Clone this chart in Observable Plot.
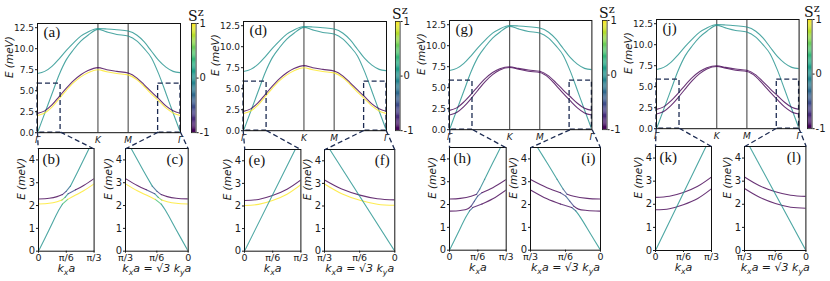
<!DOCTYPE html>
<html><head><meta charset="utf-8">
<script src="https://cdn.jsdelivr.net/npm/d3@7"></script>
<script src="https://cdn.jsdelivr.net/npm/@observablehq/plot@0.6"></script>
<style>
body{margin:0;background:#fff;}
#fig{position:relative;width:830px;height:281px;overflow:hidden;background:#fff;font-family:"DejaVu Sans",sans-serif;}
#fig svg{position:absolute;}
</style></head><body><div id="fig"></div>
<script>
// ---------------- data ----------------
// distance along the path Γ–K–M–Γ (units of 1/a)
const pathTickPos = [0, 4.189, 6.283, 9.911];
const pathTickLab = ["Γ", "K", "M", "Γ"];
const eTicksMain = [0, 2.5, 5, 7.5, 10, 12.5];
const dMain = [0, 0.5, 1.0, 1.5, 2.0, 2.5, 3.0, 3.5, 4.189, 4.8, 5.5, 6.283, 6.9, 7.4, 7.9, 8.4, 8.9, 9.4, 9.911];

// panels (a),(d)
const cyanUpperAD = [7.05, 7.3, 7.9, 8.8, 9.8, 10.7, 11.5, 12.0, 12.4, 12.35, 12.25, 12.1, 11.6, 10.8, 9.7, 8.6, 7.8, 7.3, 7.15];
const cyanLowerAD = [0, 2.3, 4.6, 6.9, 8.7, 9.9, 10.9, 11.6, 12.3, 12.0, 11.7, 11.5, 10.9, 10.0, 8.9, 7.0, 4.7, 2.35, 0];
const purpleAD    = [2.3, 2.6, 3.3, 4.3, 5.3, 6.2, 6.9, 7.4, 7.75, 7.5, 7.3, 7.1, 6.5, 5.7, 4.85, 4.05, 3.2, 2.6, 2.3];
const yellowAD    = [2.05, 2.35, 3.05, 4.05, 5.05, 5.95, 6.65, 7.15, 7.5, 7.25, 7.05, 6.88, 6.3, 5.5, 4.6, 3.8, 2.95, 2.35, 2.05];
// panels (g),(j)
const cyanUpperGJ = [7.05, 7.3, 7.9, 8.8, 9.8, 10.7, 11.5, 12.0, 12.4, 12.35, 12.25, 12.1, 11.6, 10.8, 9.7, 8.6, 7.8, 7.3, 7.15];
const cyanLowerGJ = [0, 2.3, 4.6, 6.9, 8.7, 9.9, 10.9, 11.6, 12.3, 12.0, 11.7, 11.5, 10.9, 10.0, 8.9, 7.0, 4.7, 2.35, 0];
const purpleUpperGJ = [2.3, 2.6, 3.3, 4.2, 5.2, 6.1, 6.8, 7.25, 7.5, 7.3, 7.1, 6.95, 6.4, 5.6, 4.75, 3.95, 3.15, 2.55, 2.3];
const purpleLowerGJ = [1.75, 2.05, 2.75, 3.7, 4.75, 5.75, 6.55, 7.1, 7.4, 7.2, 6.95, 6.8, 6.2, 5.3, 4.35, 3.45, 2.6, 2.0, 1.75];

// dashed zoom boxes (path distance, energy)
const boxLeft = [0, 1.6];
const boxRight = [8.36, 9.911];
const boxTop = 5.85;

// inset axes
const kTicks = [0, Math.PI / 6, Math.PI / 3];
const kTickLab = ["0", "π/6", "π/3"];
const eTicksInset = [0, 1, 2, 3, 4];

// (b),(c): anticrossing, S^z = +1 / -1 bands
const kB1 = [0, 0.2, 0.38, 0.45, 0.55, 0.7, 0.85, 1.047];
const eB1 = [0, 0.94, 1.79, 2.06, 2.27, 2.46, 2.65, 2.95];
const sB1 = [0, 0, 0, 0.4, 1, 1, 1, 1];
const kB2 = [0, 0.2, 0.35, 0.44, 0.5, 0.56, 0.7, 0.85, 1.047];
const eB2 = [2.07, 2.1, 2.17, 2.24, 2.36, 2.52, 2.69, 2.88, 3.18];
const sB2 = [1, 1, 1, 0.6, 0, -0.6, -1, -1, -1];
const kB3 = [0, 0.2, 0.35, 0.45, 0.52, 0.6, 0.75, 0.953];
const eB3 = [2.29, 2.32, 2.39, 2.48, 2.62, 2.85, 3.54, 4.5];
const sB3 = [-1, -1, -1, -0.7, -0.3, 0, 0, 0];

// (e),(f): crossings
const kE = [0, 0.26, 0.52, 0.79, 1.047];
const purpleE = [2.24, 2.29, 2.46, 2.74, 3.15];
const yellowE = [2.02, 2.07, 2.24, 2.52, 2.94];
const kCyanE = [0, 0.942], eCyanE = [0, 4.5];
const purpleF = [2.27, 2.32, 2.48, 2.75, 3.15];
const yellowF = [2.03, 2.08, 2.25, 2.54, 2.97];
const kCyanF = [0, 0.968], eCyanF = [0, 4.5];

// (h),(i): anticrossing, two S^z = -1 bands
const kH1 = [0, 0.15, 0.3, 0.37, 0.43, 0.6, 0.8, 1.047];
const eH1 = [0, 0.72, 1.44, 1.72, 1.87, 2.02, 2.25, 2.64];
const sH1 = [0, 0, 0, -0.4, -0.9, -1, -1, -1];
const kH2 = [0, 0.2, 0.33, 0.4, 0.46, 0.52, 0.6, 0.8, 1.047];
const eH2 = [1.71, 1.74, 1.8, 1.93, 2.15, 2.37, 2.52, 2.74, 3.1];
const sH2 = [-1, -1, -1, -0.6, -0.4, -0.6, -1, -1, -1];
const kH3 = [0, 0.2, 0.4, 0.5, 0.56, 0.65, 0.8, 0.942];
const eH3 = [2.24, 2.27, 2.36, 2.45, 2.68, 3.11, 3.83, 4.5];
const sH3 = [-1, -1, -1, -0.5, -0.1, 0, 0, 0];

// (k),(l): crossings
const kK = [0, 0.26, 0.52, 0.79, 1.047];
const upperK = [2.3, 2.35, 2.51, 2.78, 3.18];
const lowerK = [1.76, 1.81, 1.98, 2.25, 2.67];
const kCyanK = [0, 0.945], eCyanK = [0, 4.5];
const upperL = [2.34, 2.39, 2.54, 2.8, 3.18];
const lowerL = [1.83, 1.87, 2.03, 2.3, 2.68];
const kCyanL = [0, 0.96], eCyanL = [0, 4.5];

const cbTicks = [-1, 0, 1];

// ---------------- helpers ----------------
const fig = document.getElementById("fig");
const FW = 830, FH = 281;
const BOXC = "#1c2b52";
const DASH = "5,3";
const colorOpt = {type: "linear", scheme: "viridis", domain: [-1, 1]};

function bandRows(name, ks, es, ss) {
  const out = []; let p = 0;
  for (let i = 0; i < ks.length; i++) {
    const s = Array.isArray(ss) ? ss[i] : ss;
    const sp = Array.isArray(ss) ? ss[i - 1] : ss;
    if (i > 0 && s !== sp) { out.push({k: ks[i], e: es[i], s: sp, piece: name + p}); p++; }
    out.push({k: ks[i], e: es[i], s, piece: name + p});
  }
  return out;
}

function place(svg, left, top) {
  svg.style.left = left + "px";
  svg.style.top = top + "px";
  fig.appendChild(svg);
  return {svg, left, top};
}

const baseStyle = {background: "transparent", overflow: "visible", fontFamily: "DejaVu Sans", color: "#1a1a1a"};

function mainPanel(cfg) {
  const mL = 45, mR = 10, mT = 30, mB = 30;
  const T = cfg.B - 109.2;
  const fw = cfg.R - cfg.L, fh = cfg.B - T;
  const rows = cfg.bands.flatMap(b => bandRows(b.name, dMain, b.e, b.s));
  const boxes = [{x1: boxLeft[0], x2: boxLeft[1]}, {x1: boxRight[0], x2: boxRight[1]}];
  const p = Plot.plot({
    width: fw + mL + mR, height: fh + mT + mB,
    marginLeft: mL, marginRight: mR, marginTop: mT, marginBottom: mB,
    style: baseStyle,
    x: {domain: [0, pathTickPos[3]]},
    y: {domain: [0, 13]},
    color: colorOpt,
    marks: [
      Plot.ruleX([pathTickPos[1], pathTickPos[2]], {stroke: "#3a3a3a", strokeWidth: 1}),
      Plot.line(rows, {x: "k", y: "e", z: "piece", stroke: "s", curve: "monotone-x", strokeWidth: 1.1, strokeOpacity: 0.8, clip: true}),
      Plot.rect(boxes, {x1: "x1", x2: "x2", y1: 0, y2: boxTop, fill: "none", stroke: BOXC, strokeWidth: 1.3, strokeDasharray: DASH}),
      Plot.frame({stroke: "#111"}),
      Plot.axisY({ticks: eTicksMain, tickFormat: d3.format(".1f"), tickSize: 2, tickPadding: 1.5, fontSize: 9, label: null}),
      Plot.axisX({ticks: pathTickPos, tickFormat: d => pathTickLab[pathTickPos.indexOf(d)], tickSize: 0, tickPadding: 4, fontSize: 9, fontStyle: "italic", label: null}),
      Plot.text([cfg.tag], {text: d => d, frameAnchor: "top-left", textAnchor: "start", lineAnchor: "top", dx: 6, dy: 3, fontFamily: "Liberation Serif", fontSize: 15, fill: "#111"}),
      Plot.text(["E (meV)"], {text: d => d, frameAnchor: "left", rotate: -90, dx: -28, fontStyle: "italic", fontSize: 10.5})
    ]
  });
  return {plot: p, ...place(p, cfg.L - mL, T - mT)};
}

function colorbar(cfg) {
  const mL = 5, mR = 25, mT = 30, mB = 5;
  const T = cfg.B - 109.2;
  const fh = cfg.B - T, fw = 4.6;
  const steps = d3.range(-1, 1, 0.02);
  const p = Plot.plot({
    width: fw + mL + mR, height: fh + mT + mB,
    marginLeft: mL, marginRight: mR, marginTop: mT, marginBottom: mB,
    style: baseStyle,
    x: {domain: [0, 1], axis: null},
    y: {domain: [-1, 1]},
    color: colorOpt,
    marks: [
      Plot.rect(steps, {x1: 0, x2: 1, y1: d => d, y2: d => d + 0.021, fill: d => d + 0.01}),
      Plot.frame({stroke: "#222", strokeWidth: 0.8}),
      Plot.axisY({anchor: "right", ticks: cbTicks, tickFormat: d => (d < 0 ? "-" : "") + Math.abs(d), tickSize: 2, tickPadding: 1.5, fontSize: 10, label: null}),
      Plot.text(["S^z"], {text: d => d, frameAnchor: "top", textAnchor: "middle", lineAnchor: "bottom", dx: 2, dy: -2, fontFamily: "DejaVu Serif", fontSize: 14, fill: "#111"})
    ]
  });
  return place(p, cfg.CL - mL, T - mT);
}

function insetPanel(cfg) {
  const mL = 30, mR = 10, mT = 10, mB = 32;
  const fw = cfg.R - cfg.L, fh = cfg.B - cfg.T;
  const rows = cfg.bands.flatMap(b => bandRows(b.name, b.k, b.e, b.s));
  const p = Plot.plot({
    width: fw + mL + mR, height: fh + mT + mB,
    marginLeft: mL, marginRight: mR, marginTop: mT, marginBottom: mB,
    style: baseStyle,
    x: {domain: [0, Math.PI / 3], reverse: !!cfg.rev},
    y: {domain: [0, 4.5]},
    color: colorOpt,
    marks: [
      Plot.line(rows, {x: "k", y: "e", z: "piece", stroke: "s", curve: "catmull-rom", strokeWidth: 1.1, strokeOpacity: 0.8, clip: true}),
      Plot.frame({stroke: "#111"}),
      Plot.axisY({ticks: eTicksInset, tickFormat: d => String(d), tickSize: 2, tickPadding: 1.5, fontSize: 10, label: null}),
      Plot.axisX({ticks: kTicks, tickFormat: d => kTickLab[kTicks.indexOf(d)], tickSize: 2, tickPadding: 1, fontSize: 9.5, label: null}),
      Plot.text([cfg.tag], {text: d => d, frameAnchor: cfg.rev ? "top-right" : "top-left", textAnchor: cfg.rev ? "end" : "start", lineAnchor: "top", dx: cfg.rev ? -5 : 4, dy: 5, fontFamily: "Liberation Serif", fontSize: 15, fill: "#111"}),
      Plot.text(["E (meV)"], {text: d => d, frameAnchor: "left", rotate: -90, dx: -16.5, fontStyle: "italic", fontSize: 10.5}),
      Plot.text([cfg.xlabel], {text: d => d, frameAnchor: "bottom", lineAnchor: "middle", dy: 17, fontStyle: "italic", fontSize: 11})
    ]
  });
  return {plot: p, ...place(p, cfg.L - mL, cfg.T - mT)};
}

// ---------------- panels ----------------
const bandsAD = [
  {name: "cu", e: cyanUpperAD, s: 0},
  {name: "cl", e: cyanLowerAD, s: 0},
  {name: "y", e: yellowAD, s: 1},
  {name: "p", e: purpleAD, s: -1}
];
const bandsGJ = [
  {name: "cu", e: cyanUpperGJ, s: 0},
  {name: "cl", e: cyanLowerGJ, s: 0},
  {name: "pl", e: purpleLowerGJ, s: -1},
  {name: "pu", e: purpleUpperGJ, s: -1}
];
const bandsBC = [
  {name: "b1", k: kB1, e: eB1, s: sB1},
  {name: "b2", k: kB2, e: eB2, s: sB2},
  {name: "b3", k: kB3, e: eB3, s: sB3}
];
const bandsE = [
  {name: "y", k: kE, e: yellowE, s: 1},
  {name: "p", k: kE, e: purpleE, s: -1},
  {name: "c", k: kCyanE, e: eCyanE, s: 0}
];
const bandsF = [
  {name: "y", k: kE, e: yellowF, s: 1},
  {name: "p", k: kE, e: purpleF, s: -1},
  {name: "c", k: kCyanF, e: eCyanF, s: 0}
];
const bandsHI = [
  {name: "h1", k: kH1, e: eH1, s: sH1},
  {name: "h2", k: kH2, e: eH2, s: sH2},
  {name: "h3", k: kH3, e: eH3, s: sH3}
];
const bandsK = [
  {name: "l", k: kK, e: lowerK, s: -1},
  {name: "u", k: kK, e: upperK, s: -1},
  {name: "c", k: kCyanK, e: eCyanK, s: 0}
];
const bandsL = [
  {name: "l", k: kK, e: lowerL, s: -1},
  {name: "u", k: kK, e: upperL, s: -1},
  {name: "c", k: kCyanL, e: eCyanL, s: 0}
];

const xl1 = "k_xa";
const xl2 = "k_xa = √3 k_ya";

const mains = [
  {tag: "(a)", L: 37, R: 180, B: 131.7, CL: 190.7, bands: bandsAD},
  {tag: "(d)", L: 242.7, R: 385.7, B: 130, CL: 394.5, bands: bandsAD},
  {tag: "(g)", L: 449.3, R: 591.7, B: 129.3, CL: 601.5, bands: bandsGJ},
  {tag: "(j)", L: 655.7, R: 798.3, B: 127.7, CL: 806.5, bands: bandsGJ}
];
const insets = [
  [{tag: "(b)", L: 37.7, R: 93.3, T: 148.3, B: 251, bands: bandsBC, xlabel: xl1},
   {tag: "(c)", L: 125, R: 187.7, T: 148.3, B: 251, bands: bandsBC, xlabel: xl2, rev: true}],
  [{tag: "(e)", L: 244.3, R: 300.7, T: 149.3, B: 251, bands: bandsE, xlabel: xl1},
   {tag: "(f)", L: 324, R: 394.3, T: 149.3, B: 251, bands: bandsF, xlabel: xl2, rev: true}],
  [{tag: "(h)", L: 449, R: 505.7, T: 147.3, B: 250, bands: bandsHI, xlabel: xl1},
   {tag: "(i)", L: 530, R: 600, T: 147.3, B: 250, bands: bandsHI, xlabel: xl2, rev: true}],
  [{tag: "(k)", L: 655, R: 711, T: 146, B: 250, bands: bandsK, xlabel: xl1},
   {tag: "(l)", L: 744.3, R: 805.7, T: 146, B: 250, bands: bandsL, xlabel: xl2, rev: true}]
];

const connectors = [];
function xyFn(scale) {
  if (scale.apply) return v => scale.apply(v);
  return d3.scaleLinear().domain(scale.domain).range(scale.range);
}
mains.forEach((m, i) => {
  const M = mainPanel(m);
  colorbar(m);
  const I1 = insetPanel(insets[i][0]);
  const I2 = insetPanel(insets[i][1]);
  const mx = xyFn(M.plot.scale("x")), my = xyFn(M.plot.scale("y"));
  const y0 = M.top + my(0);
  const corners = (I) => {
    const r = d3.extent(I.plot.scale("x").range);
    const t = d3.min(I.plot.scale("y").range);
    return [I.left + r[0], I.left + r[1], I.top + t];
  };
  const c1 = corners(I1), c2 = corners(I2);
  connectors.push({x1: M.left + mx(boxLeft[0]), y1: y0, x2: c1[0], y2: c1[2]});
  connectors.push({x1: M.left + mx(boxLeft[1]), y1: y0, x2: c1[1], y2: c1[2]});
  connectors.push({x1: M.left + mx(boxRight[0]), y1: y0, x2: c2[0], y2: c2[2]});
  connectors.push({x1: M.left + mx(boxRight[1]), y1: y0, x2: c2[1], y2: c2[2]});
});

const overlay = Plot.plot({
  width: FW, height: FH, margin: 0,
  style: {background: "transparent", overflow: "visible"},
  x: {domain: [0, FW], range: [0, FW], axis: null},
  y: {domain: [0, FH], range: [0, FH], axis: null},
  marks: [
    Plot.link(connectors, {x1: "x1", y1: "y1", x2: "x2", y2: "y2", stroke: BOXC, strokeWidth: 1.3, strokeDasharray: DASH})
  ]
});
overlay.style.pointerEvents = "none";
place(overlay, 0, 0);

// sub/superscripts in labels: "_x" and "^z"
const NS = "http://www.w3.org/2000/svg";
fig.querySelectorAll("text").forEach(el => {
  const s = el.textContent;
  if (!/[_^]/.test(s) || el.children.length) return;
  el.textContent = "";
  let buf = "", reset = null;
  const flush = () => {
    if (!buf) return;
    const t = document.createElementNS(NS, "tspan");
    t.textContent = buf;
    if (reset !== null) { t.setAttribute("dy", reset + "em"); reset = null; }
    el.appendChild(t); buf = "";
  };
  for (let i = 0; i < s.length; i++) {
    const c = s[i];
    if ((c === "_" || c === "^") && i + 1 < s.length) {
      flush();
      const t = document.createElementNS(NS, "tspan");
      const sub = c === "_";
      const fs = sub ? 0.7 : 0.8;
      const shift = sub ? 0.28 : -0.4; // in base em
      t.setAttribute("font-size", (fs * 100) + "%");
      t.setAttribute("dy", (shift / fs).toFixed(3) + "em");
      t.textContent = s[i + 1];
      el.appendChild(t);
      reset = -shift;
      i++;
    } else buf += c;
  }
  flush();
});
</script></body></html>
